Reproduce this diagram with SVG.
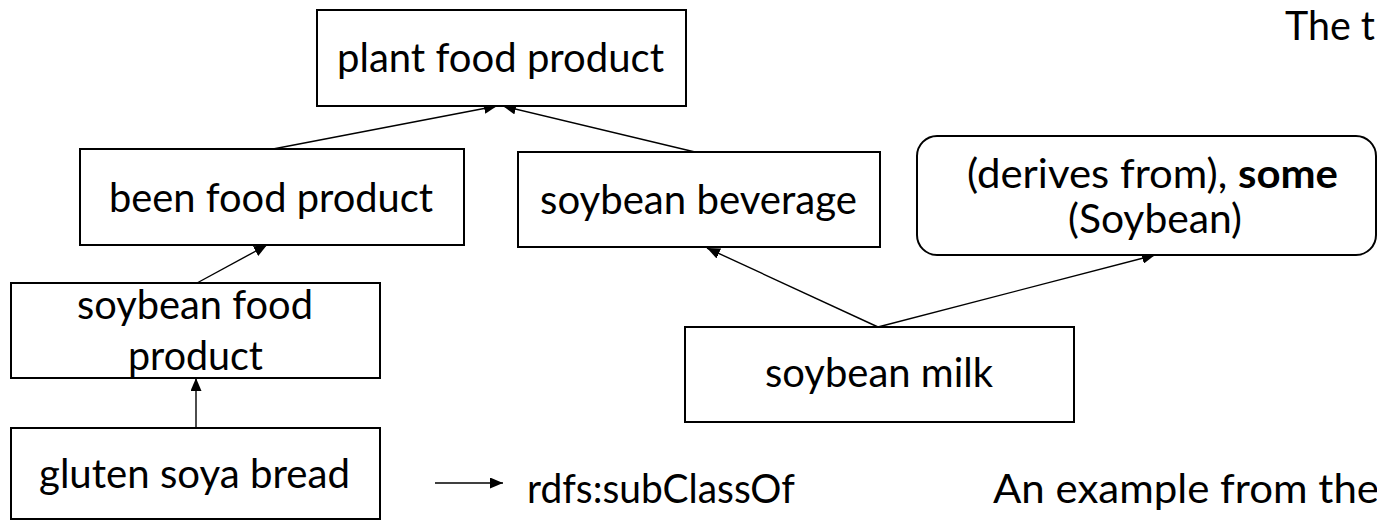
<svg xmlns="http://www.w3.org/2000/svg" width="1377" height="520" viewBox="0 0 1377 520">
<style>
  .box { fill: #fff; stroke: #000; stroke-width: 2; }
  .lbl { font-family: Lato, "Open Sans", "Liberation Sans", sans-serif; font-size: 40px; fill: #000; }
  .conn { stroke: #000; stroke-width: 1.4; fill: none; marker-end: url(#ah); }
</style>
<defs>
  <marker id="ah" markerUnits="userSpaceOnUse" markerWidth="13" markerHeight="11" refX="13" refY="5.5" orient="auto">
    <path d="M0,0 L13,5.5 L0,11 z" fill="#000"/>
  </marker>
</defs>
<rect x="0" y="0" width="1377" height="520" fill="#fff"/>

<g id="connectors">
  <line class="conn" x1="273" y1="149" x2="497" y2="106"/>
  <line class="conn" x1="695" y1="152" x2="503" y2="106"/>
  <line class="conn" x1="197" y1="283" x2="267" y2="245"/>
  <line class="conn" x1="196" y1="428" x2="196" y2="378"/>
  <line class="conn" x1="878" y1="327" x2="707" y2="248"/>
  <line class="conn" x1="878" y1="327" x2="1155" y2="255"/>
</g>

<g id="plant-food-product">
  <rect class="box" x="317" y="10" width="369" height="96"/>
  <text class="lbl" x="337" y="72" textLength="327" lengthAdjust="spacingAndGlyphs">plant food product</text>
</g>

<g id="been-food-product">
  <rect class="box" x="80" y="149" width="384" height="96"/>
  <text class="lbl" x="109" y="212" textLength="324" lengthAdjust="spacingAndGlyphs">been food product</text>
</g>

<g id="soybean-beverage">
  <rect class="box" x="518" y="152" width="362" height="95"/>
  <text class="lbl" x="540" y="214" textLength="317" lengthAdjust="spacingAndGlyphs">soybean beverage</text>
</g>

<g id="derives-from-some-soybean">
  <rect class="box" x="917" y="136" width="459" height="119" rx="20" ry="20"/>
  <text class="lbl" x="967" y="188" textLength="371" lengthAdjust="spacingAndGlyphs">(derives from), <tspan font-weight="bold">some</tspan></text>
  <text class="lbl" x="1068" y="233" textLength="174" lengthAdjust="spacingAndGlyphs">(Soybean)</text>
</g>

<g id="soybean-food-product">
  <rect class="box" x="11" y="283" width="369" height="95"/>
  <text class="lbl" x="77" y="319" textLength="236" lengthAdjust="spacingAndGlyphs">soybean food</text>
  <text class="lbl" x="128" y="370" textLength="135" lengthAdjust="spacingAndGlyphs">product</text>
</g>

<g id="soybean-milk">
  <rect class="box" x="685" y="327" width="389" height="95"/>
  <text class="lbl" x="765" y="387" textLength="228" lengthAdjust="spacingAndGlyphs">soybean milk</text>
</g>

<g id="gluten-soya-bread">
  <rect class="box" x="11" y="428" width="369" height="91"/>
  <text class="lbl" x="39" y="488" textLength="311" lengthAdjust="spacingAndGlyphs">gluten soya bread</text>
</g>

<g id="legend">
  <line class="conn" x1="435" y1="483" x2="503" y2="483"/>
  <text class="lbl" x="527" y="503" textLength="268" lengthAdjust="spacingAndGlyphs">rdfs:subClassOf</text>
</g>

<g id="captions">
  <text class="lbl" x="1285" y="40" textLength="90" lengthAdjust="spacingAndGlyphs">The t</text>
  <text class="lbl" x="993" y="503" textLength="386" lengthAdjust="spacingAndGlyphs">An example from the</text>
</g>
</svg>
